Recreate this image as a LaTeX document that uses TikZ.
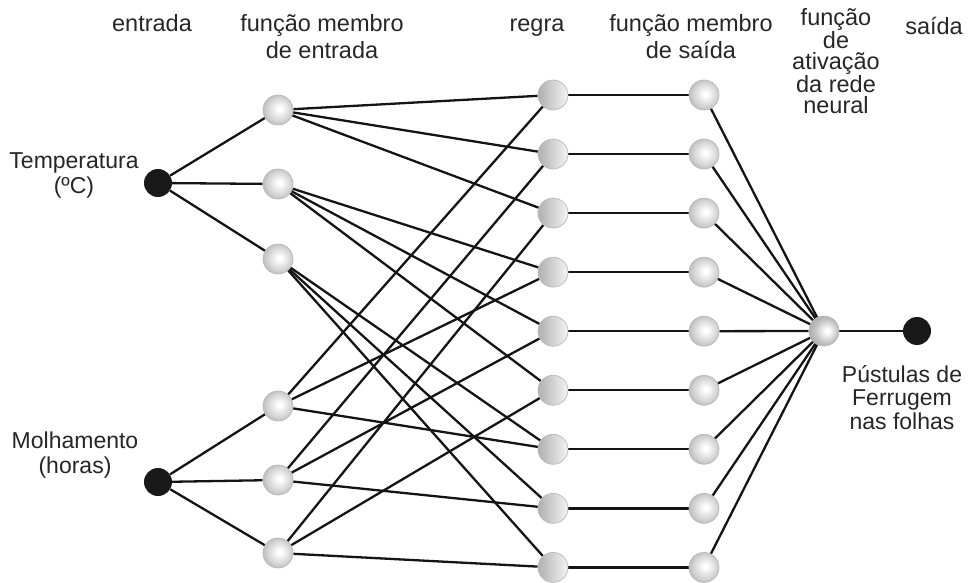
\documentclass[tikz,border=0pt]{standalone}
\usepackage{fontspec}
\setmainfont{Liberation Sans}
\usetikzlibrary{backgrounds}

% soft grey ball used for the membership-function neurons
\pgfdeclareradialshading{mfball}{\pgfpoint{3bp}{2bp}}{%
  color(0bp)=(white); color(3bp)=(white);
  color(20bp)=(gray!35); color(25bp)=(gray!48); color(50bp)=(gray!48)}
% activation neuron: bright spot right of centre
\pgfdeclareradialshading{actball}{\pgfpoint{6bp}{0bp}}{%
  color(0bp)=(white); color(3bp)=(white);
  color(20bp)=(gray!50); color(28bp)=(gray!65); color(50bp)=(gray!65)}

\begin{document}
\begin{tikzpicture}[x=1pt,y=-1pt,
  every node/.style={inner sep=0pt},
  link/.style={line width=2.3pt, black!92},
  ionode/.style={circle, fill=black!90, minimum size=28pt},
  mfnode/.style={circle, shading=mfball, draw=gray!55, line width=0.7pt, minimum size=30pt},
  rulenode/.style={circle, left color=gray!62, right color=gray!8, draw=gray!55, line width=0.7pt, minimum size=30pt},
  actnode/.style={circle, shading=actball, draw=gray!55, line width=0.7pt, minimum size=30pt},
  % base anchor of a multi-line text sits on its last line
  lbl/.style={font=\fontsize{23.5}{27}\selectfont, text=black!85, align=center, anchor=base},
]
\useasboundingbox (0,0) rectangle (970,583);

% input variables
\node[ionode] (tin) at (158,183) {};
\node[ionode] (min) at (158,482) {};

% input membership functions
\node[mfnode] (t1) at (278,110) {};
\node[mfnode] (t2) at (278,184) {};
\node[mfnode] (t3) at (278,259) {};
\node[mfnode] (m1) at (278,406) {};
\node[mfnode] (m2) at (278,480) {};
\node[mfnode] (m3) at (278,553) {};

% rules and output membership functions
\foreach \i [evaluate=\i as \yy using 95+(\i-1)*59.05] in {1,...,9} {
  \node[rulenode] (r\i) at (553,\yy) {};
  \node[mfnode] (o\i) at (704,\yy) {};
}

% activation and output
\node[actnode] (act) at (824,331) {};
\node[ionode] (out) at (917,331) {};

\begin{scope}[on background layer]
  \foreach \a/\b in {tin/t1,tin/t2,tin/t3,min/m1,min/m2,min/m3,
      t1/r1,t1/r2,t1/r3,t2/r4,t2/r5,t2/r6,t3/r7,t3/r8,t3/r9,
      m1/r1,m1/r4,m1/r7,m2/r2,m2/r5,m2/r8,m3/r3,m3/r6,m3/r9}
    \draw[link] (\a) -- (\b);
  \foreach \i in {1,...,9} {
    \draw[link] (r\i) -- (o\i);
    \draw[link] (o\i) -- (act);
  }
  \draw[link] (act) -- (out);
\end{scope}

% column titles
\node[lbl] (l-in) at (152,32) {entrada};
\node[lbl] (l-mfin) at (322,59) {função membro\\de entrada};
\node[lbl] (l-rule) at (537,32) {regra};
\node[lbl] (l-mfout) at (691,59) {função membro\\de saída};
\node[lbl, font=\fontsize{23.5}{21}\selectfont] (l-act) at (836,114) {função\\de\\ativação\\da rede\\neural};
\node[lbl] (l-out) at (934,35) {saída};

% variable names
\node[lbl, font=\fontsize{23}{25}\selectfont] (l-temp) at (74,194) {Temperatura\\(ºC)};
\node[lbl, font=\fontsize{23}{25}\selectfont] (l-molh) at (75,473) {Molhamento\\(horas)};
\node[lbl, font=\fontsize{23}{23.5}\selectfont] (l-pust) at (902,429) {Pústulas de\\Ferrugem\\nas folhas};
\end{tikzpicture}
\end{document}
